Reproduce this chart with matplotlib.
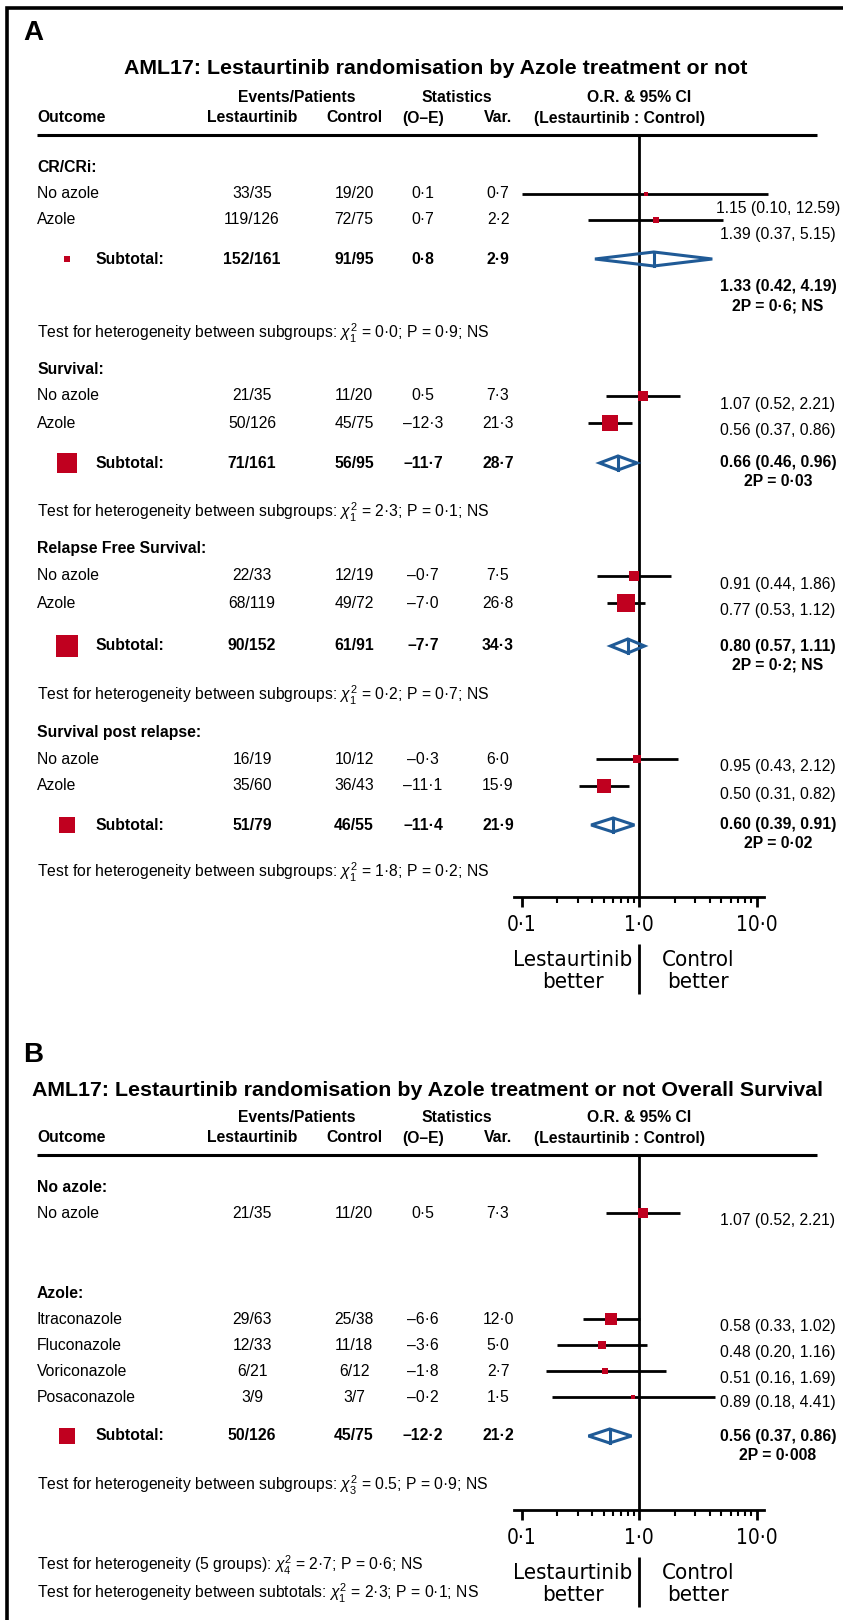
import numpy as np
import matplotlib
matplotlib.use('Agg')
import matplotlib.pyplot as plt
from matplotlib import font_manager as fm
from matplotlib.patches import Polygon
from matplotlib.ticker import FixedLocator, NullFormatter

plt.rcParams['font.family'] = ['Liberation Sans', 'DejaVu Sans']
plt.rcParams['mathtext.fontset'] = 'custom'
plt.rcParams['mathtext.rm'] = 'Liberation Sans'
plt.rcParams['mathtext.it'] = 'Liberation Sans:italic'

RED = '#c0001f'
BLUE = '#1f5a96'

# narrow face for the axis annotations, whichever is installed
_fonts = fm.fontManager.ttflist
if any(f.name == 'Liberation Sans Narrow' for f in _fonts):
    NARROW = dict(fontfamily='Liberation Sans Narrow')
    TICK_FS, DIR_FS = 17, 18
elif any(f.name == 'DejaVu Sans' and 'Condensed' in f.fname for f in _fonts):
    NARROW = dict(fontfamily='DejaVu Sans', fontstretch='condensed')
    TICK_FS, DIR_FS = 15, 16
else:
    NARROW = dict(fontfamily='Liberation Sans')
    TICK_FS, DIR_FS = 14, 15

# ---- panel A: outcomes split by azole treatment ----
a_groups = ['CR/CRi:', 'Survival:', 'Relapse Free Survival:', 'Survival post relapse:']
a_rows = ['No azole', 'Azole']
a_lest = ['33/35', '119/126', '21/35', '50/126', '22/33', '68/119', '16/19', '35/60']
a_ctrl = ['19/20', '72/75', '11/20', '45/75', '12/19', '49/72', '10/12', '36/43']
a_oe = [0.1, 0.7, 0.5, -12.3, -0.7, -7.0, -0.3, -11.1]
a_var = [0.7, 2.2, 7.3, 21.3, 7.5, 26.8, 6.0, 15.9]
a_or = [1.15, 1.39, 1.07, 0.56, 0.91, 0.77, 0.95, 0.50]
a_lo = [0.10, 0.37, 0.52, 0.37, 0.44, 0.53, 0.43, 0.31]
a_hi = [12.59, 5.15, 2.21, 0.86, 1.86, 1.12, 2.12, 0.82]

a_sub_lest = ['152/161', '71/161', '90/152', '51/79']
a_sub_ctrl = ['91/95', '56/95', '61/91', '46/55']
a_sub_oe = [0.8, -11.7, -7.7, -11.4]
a_sub_var = [2.9, 28.7, 34.3, 21.9]
a_sub_or = [1.33, 0.66, 0.80, 0.60]
a_sub_lo = [0.42, 0.46, 0.57, 0.39]
a_sub_hi = [4.19, 0.96, 1.11, 0.91]
a_sub_p = ['2P = 0·6; NS', '2P = 0·03', '2P = 0·2; NS', '2P = 0·02']
a_het_df = ['1', '1', '1', '1']
a_het_chi = ['0·0', '2·3', '0·2', '1·8']
a_het_p = ['0·9', '0·1', '0·7', '0·2']

# ---- panel B: overall survival by azole ----
b_groups = ['No azole:', 'Azole:']
b_rows = ['No azole', 'Itraconazole', 'Fluconazole', 'Voriconazole', 'Posaconazole']
b_lest = ['21/35', '29/63', '12/33', '6/21', '3/9']
b_ctrl = ['11/20', '25/38', '11/18', '6/12', '3/7']
b_oe = [0.5, -6.6, -3.6, -1.8, -0.2]
b_var = [7.3, 12.0, 5.0, 2.7, 1.5]
b_or = [1.07, 0.58, 0.48, 0.51, 0.89]
b_lo = [0.52, 0.33, 0.20, 0.16, 0.18]
b_hi = [2.21, 1.02, 1.16, 1.69, 4.41]

b_sub_lest = '50/126'
b_sub_ctrl = '45/75'
b_sub_oe = -12.2
b_sub_var = 21.2
b_sub_or = 0.56
b_sub_lo = 0.37
b_sub_hi = 0.86
b_sub_p = '2P = 0·008'

W, H = 843, 1620
fig = plt.figure(figsize=(W / 100, H / 100), dpi=100)
ax = fig.add_axes([0, 0, 1, 1])
ax.set_xlim(0, W)
ax.set_ylim(H, 0)
ax.axis('off')

FS = 11.3
X_LEFT, X_SUB, X_SQ = 37, 96, 67
X_LEST, X_CTRL, X_OE, X_VAR = 252, 354, 423, 498
X_RIGHT = 778
AX_X0, AX_X1 = 514, 764          # extent of the log axis line
X_01, X_10 = 521.7, 756.7        # pixel positions of 0.1 and 10


def fmt(v):
    s = f'{abs(v):.1f}'.replace('.', '·')
    return ('–' + s) if v < 0 else s


def ci_text(o, lo, hi):
    return f'{o:.2f} ({lo:.2f}, {hi:.2f})'


def side_pt(var):
    # square area proportional to the variance
    return 3.6 * np.sqrt(var) * 0.72


def txt(x, y, s, **kw):
    kw.setdefault('fontsize', FS)
    kw.setdefault('va', 'center')
    ax.text(x, y, s, **kw)


def header(y_title, y_rule, title, letter, y_letter, x_title):
    txt(23, y_letter, letter, fontsize=20, weight='bold')
    txt(x_title, y_title, title, fontsize=15.4, weight='bold', ha='center')
    y1, y2 = y_rule - 37, y_rule - 17
    txt(297, y1, 'Events/Patients', weight='bold', ha='center')
    txt(457, y1, 'Statistics', weight='bold', ha='center')
    txt(639, y1, 'O.R. & 95% CI', weight='bold', ha='center')
    txt(X_LEFT, y2, 'Outcome', weight='bold')
    txt(X_LEST, y2, 'Lestaurtinib', weight='bold', ha='center')
    txt(X_CTRL, y2, 'Control', weight='bold', ha='center')
    txt(X_OE, y2, '(O–E)', weight='bold', ha='center')
    txt(X_VAR, y2, 'Var.', weight='bold', ha='center')
    txt(620, y2, '(Lestaurtinib : Control)', weight='bold', ha='center')
    ax.plot([X_LEFT, 817], [y_rule, y_rule], color='k', lw=2.2, solid_capstyle='butt')


def forest_axes(top, bottom):
    fa = fig.add_axes([AX_X0 / W, 1 - bottom / H, (AX_X1 - AX_X0) / W, (bottom - top) / H])
    fa.set_xscale('log')
    dec = (X_10 - X_01) / 2
    fa.set_xlim(10 ** (-1 - (X_01 - AX_X0) / dec), 10 ** (1 + (AX_X1 - X_10) / dec))
    fa.set_ylim(bottom, top)
    fa.patch.set_visible(False)
    for s in ['top', 'left', 'right']:
        fa.spines[s].set_visible(False)
    fa.spines['bottom'].set_linewidth(2)
    fa.set_yticks([])
    fa.xaxis.set_major_locator(FixedLocator([0.1, 1, 10]))
    fa.xaxis.set_minor_locator(FixedLocator(list(np.arange(2, 10) / 10) + list(np.arange(2, 10))))
    fa.xaxis.set_minor_formatter(NullFormatter())
    fa.set_xticklabels(['0·1', '1·0', '10·0'], fontsize=TICK_FS, **NARROW)
    fa.tick_params(which='major', length=7, width=2, pad=6)
    fa.tick_params(which='minor', length=4, width=1.5)
    fa.axvline(1, color='k', lw=2)
    # direction labels under the axis
    lab_y = bottom + 74
    txt(573, lab_y, 'Lestaurtinib\nbetter', fontsize=DIR_FS, ha='center', linespacing=1.1,
        **NARROW)
    txt(698, lab_y, 'Control\nbetter', fontsize=DIR_FS, ha='center', linespacing=1.1,
        **NARROW)
    ax.plot([639, 639], [bottom + 47, bottom + 97], color='k', lw=2, solid_capstyle='butt')
    return fa


def study(fa, y, o, lo, hi, var, lab_dy):
    fa.plot([lo, hi], [y, y], color='k', lw=2, solid_capstyle='butt', clip_on=False, zorder=2)
    fa.plot([o], [y], marker='s', ms=side_pt(var), color=RED, mew=0, ls='none',
            clip_on=False, zorder=3)
    txt(X_RIGHT, y + lab_dy, ci_text(o, lo, hi), ha='center')


def subtotal(fa, y, lest, ctrl, oe, var, o, lo, hi, ptxt, lab_dy):
    ax.plot([X_SQ], [y], marker='s', ms=side_pt(var), color=RED, mew=0, ls='none')
    txt(X_SUB, y, 'Subtotal:', weight='bold')
    txt(X_LEST, y, lest, weight='bold', ha='center')
    txt(X_CTRL, y, ctrl, weight='bold', ha='center')
    txt(X_OE, y, fmt(oe), weight='bold', ha='center')
    txt(X_VAR, y, fmt(var), weight='bold', ha='center')
    h = 7
    fa.add_patch(Polygon([(lo, y), (o, y - h), (hi, y), (o, y + h)], closed=True,
                         fill=False, ec=BLUE, lw=2.2, clip_on=False, zorder=3))
    fa.plot([o, o], [y - h, y + h], color=BLUE, lw=2.2, clip_on=False, zorder=3)
    txt(X_RIGHT, y + lab_dy, ci_text(o, lo, hi), weight='bold', ha='center')
    txt(X_RIGHT, y + lab_dy + 19, ptxt, weight='bold', ha='center')


def het(y, df, chi, p, prefix='Test for heterogeneity between subgroups'):
    txt(X_LEFT, y, prefix + ': $\\chi^2_{' + df + '}$ = ' + chi + '; P = ' + p + '; NS')


# frame
ax.plot([7, 7, W], [H, 8, 8], color='k', lw=2.6, solid_joinstyle='miter')

# ---- panel A layout ----
A_RULE, A_AXIS = 135, 897
a_row_y = [194, 220, 396, 423, 576, 603, 759, 786]
a_head_y = [167, 369, 549, 732]
a_sub_y = [259, 463, 646, 825]
a_het_y = [333, 512, 695, 872]
a_lab_dy = [15, 15, 8, 8, 8, 8, 8, 8]
a_sub_dy = [28, 0, 0, 0]

header(69, A_RULE, 'AML17: Lestaurtinib randomisation by Azole treatment or not', 'A', 33, 436)
fa = forest_axes(A_RULE, A_AXIS)
for g, name in enumerate(a_groups):
    txt(X_LEFT, a_head_y[g], name, weight='bold')
    for r, rname in enumerate(a_rows):
        i = 2 * g + r
        y = a_row_y[i]
        txt(X_LEFT, y, rname)
        txt(X_LEST, y, a_lest[i], ha='center')
        txt(X_CTRL, y, a_ctrl[i], ha='center')
        txt(X_OE, y, fmt(a_oe[i]), ha='center')
        txt(X_VAR, y, fmt(a_var[i]), ha='center')
        study(fa, y, a_or[i], a_lo[i], a_hi[i], a_var[i], a_lab_dy[i])
    subtotal(fa, a_sub_y[g], a_sub_lest[g], a_sub_ctrl[g], a_sub_oe[g], a_sub_var[g],
             a_sub_or[g], a_sub_lo[g], a_sub_hi[g], a_sub_p[g], a_sub_dy[g])
    het(a_het_y[g], a_het_df[g], a_het_chi[g], a_het_p[g])

# ---- panel B layout ----
B_RULE, B_AXIS = 1155, 1510
b_head_y = [1187, 1293]
b_row_y = [1213, 1319, 1345, 1371, 1397]
b_lab_dy = [7, 8, 7, 7, 6]
b_sub_y = 1436

header(1090, B_RULE,
       'AML17: Lestaurtinib randomisation by Azole treatment or not Overall Survival',
       'B', 1055, 427)
fb = forest_axes(B_RULE, B_AXIS)
for g, name in enumerate(b_groups):
    txt(X_LEFT, b_head_y[g], name, weight='bold')
for i, rname in enumerate(b_rows):
    y = b_row_y[i]
    txt(X_LEFT, y, rname)
    txt(X_LEST, y, b_lest[i], ha='center')
    txt(X_CTRL, y, b_ctrl[i], ha='center')
    txt(X_OE, y, fmt(b_oe[i]), ha='center')
    txt(X_VAR, y, fmt(b_var[i]), ha='center')
    study(fb, y, b_or[i], b_lo[i], b_hi[i], b_var[i], b_lab_dy[i])
subtotal(fb, b_sub_y, b_sub_lest, b_sub_ctrl, b_sub_oe, b_sub_var,
         b_sub_or, b_sub_lo, b_sub_hi, b_sub_p, 0)
het(1485, '3', '0.5', '0·9')
het(1565, '4', '2·7', '0·6', 'Test for heterogeneity (5 groups)')
het(1593, '1', '2·3', '0·1', 'Test for heterogeneity between subtotals')

fig.savefig('out.png', dpi=100)
